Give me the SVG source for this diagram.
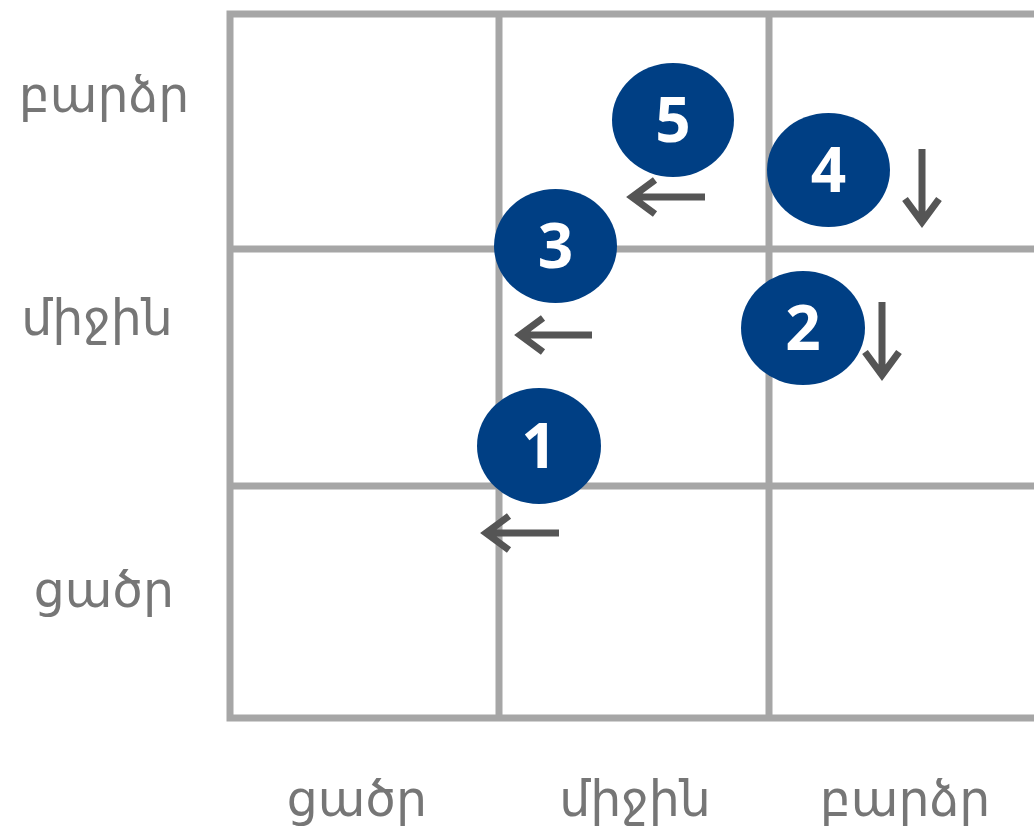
<svg xmlns="http://www.w3.org/2000/svg" width="1034" height="831" viewBox="0 0 1034 831">
<style>
.grid{stroke:#a6a6a6;stroke-width:7;fill:none}
.lbl{font-family:"Noto Sans","DejaVu Sans",sans-serif;font-size:49px;fill:#767676;text-anchor:middle}
.node ellipse{fill:#003f84}
.node text{font-family:"Open Sans","Noto Sans",sans-serif;font-weight:bold;font-size:62px;fill:#ffffff;text-anchor:middle}
.arr{stroke:#555555;stroke-width:7;fill:none}
</style>
<rect width="1034" height="831" fill="#ffffff"/>
<g id="grid" class="grid">
<path d="M1040 14H230V718H1040"/>
<path d="M499 14V718M769 14V718M230 249H1040M230 486H1040"/>
</g>
<g id="labels">
<text class="lbl" x="104" y="112">բարձր</text>
<text class="lbl" x="97" y="335">միջին</text>
<text class="lbl" x="104" y="607">ցածր</text>
<text class="lbl" x="357" y="816">ցածր</text>
<text class="lbl" x="635" y="816">միջին</text>
<text class="lbl" x="905" y="816">բարձր</text>
</g>
<g id="connectors" class="arr">
<path d="M705 197H632M655 180L632 197L655 214"/>
<path d="M592 335H520M543 318L520 335L543 352"/>
<path d="M559 533H486M509 516L486 533L509 550"/>
<path d="M922 149V222M905 199L922 222L939 199"/>
<path d="M882 302V375M865 352L882 375L899 352"/>
</g>
<g id="node5" class="node"><ellipse cx="673" cy="120" rx="61" ry="57"/><text x="673" y="142">5</text></g>
<g id="node3" class="node"><ellipse cx="555.5" cy="246" rx="61.5" ry="57"/><text x="555.5" y="268">3</text></g>
<g id="node4" class="node"><ellipse cx="828.5" cy="170" rx="61.5" ry="57"/><text x="828.5" y="192">4</text></g>
<g id="node2" class="node"><ellipse cx="803" cy="328" rx="62" ry="57"/><text x="803" y="350">2</text></g>
<g id="node1" class="node"><ellipse cx="539" cy="446" rx="62" ry="58"/><text x="539" y="468">1</text></g>
</svg>
